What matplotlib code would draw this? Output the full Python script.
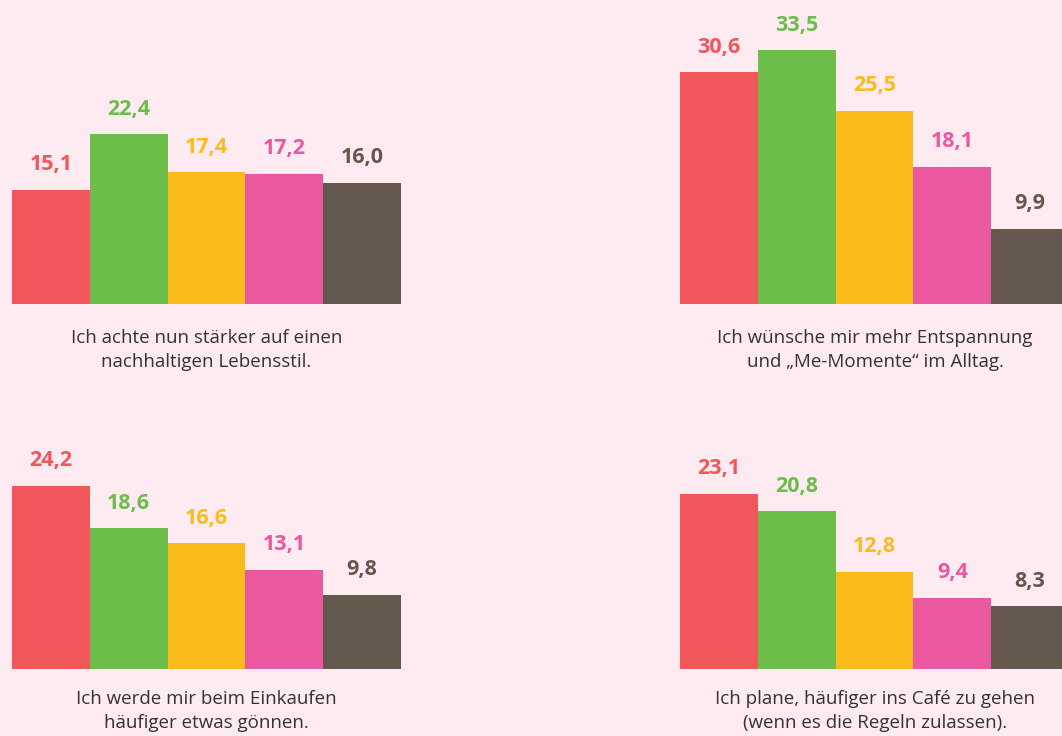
import matplotlib.pyplot as plt

# survey answers, share in percent per group (five groups per statement)
captions = [
    ["Ich achte nun stärker auf einen", "nachhaltigen Lebensstil."],
    ["Ich wünsche mir mehr Entspannung", "und \u201eMe-Momente\u201c im Alltag."],
    ["Ich werde mir beim Einkaufen", "häufiger etwas gönnen."],
    ["Ich plane, häufiger ins Café zu gehen", "(wenn es die Regeln zulassen)."],
]
values_nachhaltig = [15.1, 22.4, 17.4, 17.2, 16.0]
values_entspannung = [30.6, 33.5, 25.5, 18.1, 9.9]
values_einkaufen = [24.2, 18.6, 16.6, 13.1, 9.8]
values_cafe = [23.1, 20.8, 12.8, 9.4, 8.3]

colors = ['#f0575a', '#6cbd4a', '#fbbb1a', '#ea589f', '#64574e']
bg = '#fdebf1'

W, H = 1062, 736
PX_PER_UNIT = 7.58
YMAX = 36

fig = plt.figure(figsize=(W / 100, H / 100), dpi=100)
fig.patch.set_facecolor(bg)
plt.rcParams['font.family'] = ['Open Sans', 'DejaVu Sans']

# left edge, baseline and caption offset of each panel, in pixels from top-left
panels = [
    (12, 304, 34, values_nachhaltig, captions[0]),
    (680, 304, 34, values_entspannung, captions[1]),
    (12, 669, 30, values_einkaufen, captions[2]),
    (680, 669, 30, values_cafe, captions[3]),
]

bar_px = 77.8
for x0, base, cap_off, vals, cap in panels:
    w_px = bar_px * len(vals)
    h_px = YMAX * PX_PER_UNIT
    ax = fig.add_axes([x0 / W, 1 - base / H, w_px / W, h_px / H])
    ax.set_facecolor('none')
    xs = range(len(vals))
    ax.bar(xs, vals, width=1.0, color=colors, linewidth=0)
    ax.set_xlim(-0.5, len(vals) - 0.5)
    ax.set_ylim(0, YMAX)
    ax.axis('off')
    for x, v, c in zip(xs, vals, colors):
        ax.annotate(f"{v:.1f}".replace('.', ','), (x, v), xytext=(0, 18),
                    textcoords='offset points', ha='center', va='center',
                    fontsize=15.5, fontweight='bold', color=c, clip_on=False)
    cx = (x0 + w_px / 2) / W
    if x0 > 500:
        cx = (x0 + 195) / W
    for i, line in enumerate(cap):
        fig.text(cx, 1 - (base + cap_off + 24 * i) / H, line, ha='center', va='center',
                 fontsize=13.5, color='#333333')

fig.savefig('out.png', dpi=100, facecolor=bg)
